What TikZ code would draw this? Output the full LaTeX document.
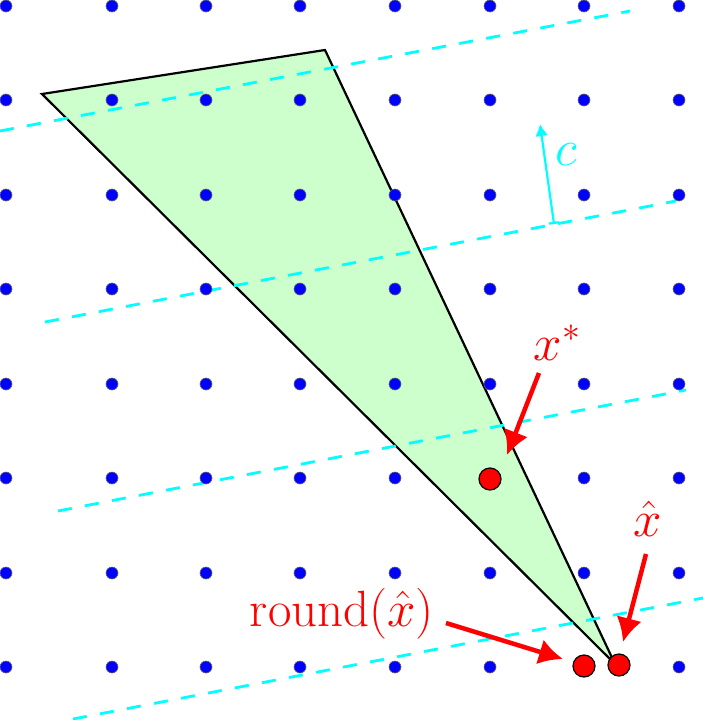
\RequirePackage{fix-cm}
\documentclass[tikz,border=0pt]{standalone}
\usetikzlibrary{arrows.meta}
\definecolor{cyn}{RGB}{0,255,255}
\definecolor{rd}{RGB}{255,0,0}
\definecolor{bl}{RGB}{0,0,255}
\definecolor{lgreen}{RGB}{204,255,204}
\begin{document}
\begin{tikzpicture}[x=1pt,y=-1pt,
  gridpt/.style={circle,fill=bl,draw=black!60,line width=0.6pt,inner sep=0pt,minimum size=12pt},
  redpt/.style={circle,fill=rd,draw=black,line width=1.2pt,inner sep=0pt,minimum size=22pt},
  level/.style={cyn,dash pattern=on 14pt off 13.5pt,line width=2.8pt},
  redarrow/.style={rd,line width=4.5pt,-{Latex[length=24pt,width=26pt]}},
  lbl/.style={font=\fontsize{51}{61}\selectfont,inner sep=0pt,anchor=base},
]
\useasboundingbox (0,0) rectangle (703,720);
% feasible region
\filldraw[fill=lgreen,draw=black,line width=2.2pt] (42,94) -- (325,50) -- (615,664) -- cycle;
% level lines
\draw[level] (0,131) -- (630,11);
\draw[level] (45,322) -- (676,201);
\draw[level] (58,511) -- (686,390);
\draw[level] (73,719) -- (703,598);
% direction c
\coordinate (cA) at (554,224);
\coordinate (cB) at (540,124);
\draw[cyn,line width=2.2pt,{Bar[width=10pt]}-{Latex[length=12pt,width=13pt]}] (cA) -- (cB);
\node[lbl,text=cyn] (clbl) at (566,165) {$c$};
% lattice
\foreach \x [count=\i] in {6,112,206,300,395,490,584,679}
  \foreach \y [count=\j] in {6,100,195,289,384,478,573,667}
    \node[gridpt] (g\i-\j) at (\x,\y) {};
% points
\node[redpt] (xstar) at (490,479) {};
\node[redpt] (xround) at (584,666) {};
\node[redpt] (xhat) at (619,665) {};
% labels
\node[lbl,text=rd] (xslbl) at (557,360) {$x^*$};
\node[lbl,text=rd] (xhlbl) at (648,536) {$\hat{x}$};
\node[lbl,text=rd] (xrlbl) at (342,626) {$\mathrm{round}(\hat{x})$};
% arrows
\coordinate (xsA) at (539,373);
\coordinate (xsB) at (507,455);
\coordinate (xhA) at (646,554);
\coordinate (xhB) at (623,642);
\coordinate (xrA) at (446,623);
\coordinate (xrB) at (563,659);
\draw[redarrow] (xsA) -- (xsB);
\draw[redarrow] (xhA) -- (xhB);
\draw[redarrow] (xrA) -- (xrB);
\end{tikzpicture}
\end{document}
